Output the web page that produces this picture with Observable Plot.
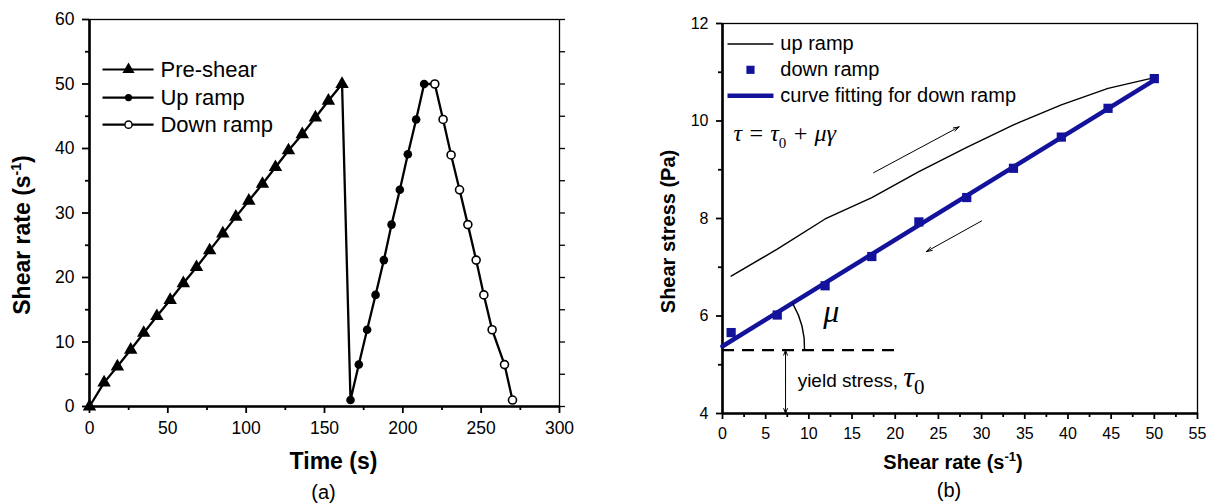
<!DOCTYPE html>
<html><head><meta charset="utf-8">
<script src="https://cdn.jsdelivr.net/npm/d3@7"></script>
<script src="https://cdn.jsdelivr.net/npm/@observablehq/plot@0.6"></script>
<style>
body{margin:0;background:#fff;}
#wrap{position:relative;width:1211px;height:504px;overflow:hidden;background:#fff;}
#a{position:absolute;left:0;top:0;}
#b{position:absolute;left:610px;top:0;}
</style></head><body>
<div id="wrap"><div id="a"></div><div id="b"></div></div>
<script>
// ---------- Panel (a): shear rate vs time ----------
const preTime  = [0, 9.3, 17.8, 26.3, 34.6, 43.0, 51.5, 59.9, 68.3, 76.7, 85.1, 93.4, 101.7, 110.4, 118.7, 127.0, 135.8, 144.2, 152.5, 161.2];
const preRate  = [0, 3.7, 6.2, 8.8, 11.4, 14.0, 16.5, 19.1, 21.6, 24.2, 26.8, 29.4, 31.9, 34.5, 37.1, 39.7, 42.2, 44.8, 47.4, 50.0];
const upTime   = [166.6, 171.9, 177.2, 182.6, 187.9, 192.8, 198.1, 203.2, 208.5, 213.6];
const upRate   = [1.0, 6.5, 11.9, 17.3, 22.7, 28.2, 33.6, 39.1, 44.5, 50.0];
const downTime = [220.4, 225.7, 230.8, 236.2, 241.5, 246.8, 251.7, 257.0, 264.9, 270.0];
const downRate = [50.0, 44.5, 39.0, 33.6, 28.2, 22.7, 17.3, 11.9, 6.5, 1.0];
const aXTicks = [0, 50, 100, 150, 200, 250, 300];
const aXMinor = [25, 75, 125, 175, 225, 275];
const aYTicks = [0, 10, 20, 30, 40, 50, 60];
const aYMinor = [5, 15, 25, 35, 45, 55];
const aRightTicks = [0, 5, 10, 15, 20, 25, 30, 35, 40, 45, 50, 55, 60];
const aLegendLabels = ["Pre-shear", "Up ramp", "Down ramp"];
const aLegendY = [52.25, 47.9, 43.7];

// ---------- Panel (b): shear stress vs shear rate ----------
const shearRate  = [1.0, 6.34, 11.88, 17.29, 22.74, 28.28, 33.69, 39.23, 44.64, 50.0];
const upStress   = [6.82, 7.37, 7.99, 8.43, 8.96, 9.46, 9.92, 10.33, 10.67, 10.89];
const downStress = [5.66, 6.02, 6.62, 7.22, 7.93, 8.43, 9.03, 9.67, 10.26, 10.87];
const fitRate    = [0, 50];
const fitStress  = [5.38, 10.84];
const yieldStress = 5.3;
const bXTicks = [0, 5, 10, 15, 20, 25, 30, 35, 40, 45, 50, 55];
const bXMinor = [2.5, 7.5, 12.5, 17.5, 22.5, 27.5, 32.5, 37.5, 42.5, 47.5, 52.5];
const bYTicks = [4, 6, 8, 10, 12];
const bYMinor = [5, 7, 9, 11];
const bLegendLabels = ["up ramp", "down ramp", "curve fitting for down ramp"];
const bLegendY = [11.58, 11.05, 10.52];

const sans = "'Liberation Sans', Arial, Helvetica, sans-serif";
const serif = "'Liberation Serif', 'Times New Roman', serif";
const navy = "#12129a";

function rich(svg, key, html) {
  svg.querySelectorAll("text").forEach(t => { if (t.textContent === key) t.innerHTML = html; });
}

// ----- build panel a -----
const pre  = preTime.map((t, i) => ({t, r: preRate[i]}));
const up   = upTime.map((t, i) => ({t, r: upRate[i]}));
const down = downTime.map((t, i) => ({t, r: downRate[i]}));
const path = [...pre, ...up, ...down];
const legA = aLegendLabels.map((label, i) => ({label, y: aLegendY[i], x1: 8.3, x2: 40.9, xm: 24.9, xt: 45.3}));

const plotA = Plot.plot({
  width: 610, height: 504,
  marginLeft: 89, marginRight: 51, marginTop: 19, marginBottom: 98,
  style: {fontFamily: sans, fontSize: "17px", background: "white", color: "black", overflow: "visible"},
  x: {domain: [0, 300]},
  y: {domain: [0, 60]},
  marks: [
    Plot.frame({stroke: "black", strokeWidth: 1.3}),
    Plot.axisX({ticks: aXTicks, tickSize: 7, tickPadding: 8, fontSize: 17.5, label: null, strokeWidth: 1.8}),
    Plot.axisX({ticks: aXMinor, tickSize: 4, text: null, label: null, strokeWidth: 1.8}),
    Plot.axisY({ticks: aYTicks, tickSize: 7, tickPadding: 8, fontSize: 17.5, label: null, strokeWidth: 1.8}),
    Plot.axisY({ticks: aYMinor, tickSize: 4, text: null, label: null, strokeWidth: 1.8}),
    Plot.axisY({anchor: "right", ticks: aRightTicks, tickSize: 5, text: null, label: null, strokeWidth: 1.3}),
    Plot.ruleX([0], {stroke: "black", strokeWidth: 2.6}),
    Plot.ruleY([0], {stroke: "black", strokeWidth: 2.6}),
    Plot.line(path, {x: "t", y: "r", stroke: "black", strokeWidth: 2.3}),
    Plot.dot(pre, {x: "t", y: "r", symbol: "triangle", r: 5, fill: "black"}),
    Plot.dot(up, {x: "t", y: "r", r: 4.3, fill: "black"}),
    Plot.dot(down, {x: "t", y: "r", r: 4, fill: "white", stroke: "black", strokeWidth: 1.6}),
    // legend
    Plot.link(legA, {x1: "x1", x2: "x2", y1: "y", y2: "y", stroke: "black", strokeWidth: 2.2}),
    Plot.dot(legA.slice(0, 1), {x: "xm", y: "y", symbol: "triangle", r: 4.5, fill: "black"}),
    Plot.dot(legA.slice(1, 2), {x: "xm", y: "y", r: 3.6, fill: "black"}),
    Plot.dot(legA.slice(2, 3), {x: "xm", y: "y", r: 3.6, fill: "white", stroke: "black", strokeWidth: 1.4}),
    Plot.text(legA, {x: "xt", y: "y", text: "label", textAnchor: "start", fontSize: 22}),
    // axis titles & caption
    Plot.text(["Time (s)"], {frameAnchor: "bottom", dx: 9, dy: 55, lineAnchor: "middle", fontSize: 23, fontWeight: "bold"}),
    Plot.text(["SRLABEL_A"], {frameAnchor: "left", textAnchor: "middle", lineAnchor: "middle", rotate: -90, dx: -67, dy: 22, fontSize: 23, fontWeight: "bold"}),
    Plot.text(["(a)"], {frameAnchor: "bottom", dx: -1, dy: 86, lineAnchor: "middle", fontSize: 20})
  ]
});
rich(plotA, "SRLABEL_A", 'Shear rate (s<tspan dy="-9" font-size="14">-1</tspan><tspan dy="9">)</tspan>');
document.getElementById("a").appendChild(plotA);

// ----- build panel b -----
const bUp   = shearRate.map((x, i) => ({x, y: upStress[i]}));
const bDown = shearRate.map((x, i) => ({x, y: downStress[i]}));
const bFit  = fitRate.map((x, i) => ({x, y: fitStress[i]}));
const arrowsB = [
  {x1: 17.5, y1: 8.94, x2: 27.4, y2: 9.88},
  {x1: 30.0, y1: 7.95, x2: 23.6, y2: 7.32}
];
const yieldArrows = [
  {x1: 7.3, y1: 4.65, x2: 7.3, y2: yieldStress},
  {x1: 7.3, y1: 4.65, x2: 7.3, y2: 4.0}
];
const arcB = [{x1: 9.5, y1: yieldStress, x2: 8.15, y2: 6.25}];

const plotB = Plot.plot({
  width: 601, height: 504,
  marginLeft: 112, marginRight: 14, marginTop: 23, marginBottom: 91,
  style: {fontFamily: sans, fontSize: "16px", background: "white", color: "black", overflow: "visible"},
  x: {domain: [0, 55]},
  y: {domain: [4, 12]},
  marks: [
    Plot.frame({stroke: "black", strokeWidth: 1.3}),
    Plot.axisX({ticks: bXTicks, tickSize: 6, tickPadding: 8, fontSize: 16, label: null, strokeWidth: 1.8}),
    Plot.axisX({ticks: bXMinor, tickSize: 4, text: null, label: null, strokeWidth: 1.8}),
    Plot.axisY({ticks: bYTicks, tickSize: 6, tickPadding: 8, fontSize: 16, label: null, strokeWidth: 1.8}),
    Plot.axisY({ticks: bYMinor, tickSize: 4, text: null, label: null, strokeWidth: 1.8}),
    Plot.ruleX([0], {stroke: "black", strokeWidth: 2.6}),
    Plot.ruleY([4], {stroke: "black", strokeWidth: 2.6}),
    // yield stress dashed line & arrow
    Plot.ruleY([yieldStress], {x1: 0, x2: 20.2, stroke: "black", strokeWidth: 2.4, strokeDasharray: "12,8"}),
    Plot.arrow(yieldArrows, {x1: "x1", y1: "y1", x2: "x2", y2: "y2", stroke: "black", strokeWidth: 1, headLength: 8, headAngle: 40}),
    // data
    Plot.line(bUp, {x: "x", y: "y", stroke: "black", strokeWidth: 1.4}),
    Plot.line(bFit, {x: "x", y: "y", stroke: navy, strokeWidth: 4.5}),
    Plot.dot(bDown, {x: "x", y: "y", symbol: "square", r: 5.2, fill: navy}),
    // annotations
    Plot.arrow(arrowsB, {x1: "x1", y1: "y1", x2: "x2", y2: "y2", stroke: "black", strokeWidth: 1, headLength: 9, headAngle: 35}),
    Plot.arrow(arcB, {x1: "x1", y1: "y1", x2: "x2", y2: "y2", bend: -16, headLength: 0, stroke: "black", strokeWidth: 1.4}),
    Plot.text([{x: 12.6, y: 6.08}], {x: "x", y: "y", text: () => "μ", fontFamily: serif, fontStyle: "italic", fontSize: 32}),
    Plot.text([{x: 1.27, y: 9.74}], {x: "x", y: "y", text: () => "FORMULA_B", textAnchor: "start", fontFamily: serif, fontStyle: "italic", fontSize: 24}),
    Plot.text([{x: 8.7, y: 4.67}], {x: "x", y: "y", text: () => "YIELD_B", textAnchor: "start", fontSize: 19}),
    // legend
    Plot.link([{y: bLegendY[0]}], {x1: 0.58, x2: 5.9, y1: "y", y2: "y", stroke: "black", strokeWidth: 1.4}),
    Plot.dot([{y: bLegendY[1]}], {x: 3.24, y: "y", symbol: "square", r: 4.6, fill: navy}),
    Plot.link([{y: bLegendY[2]}], {x1: 0.58, x2: 5.9, y1: "y", y2: "y", stroke: navy, strokeWidth: 4.5}),
    Plot.text(bLegendLabels.map((label, i) => ({label, y: bLegendY[i]})), {x: 6.7, y: "y", text: "label", textAnchor: "start", fontSize: 20}),
    // axis titles & caption
    Plot.text(["SRLABEL_B"], {frameAnchor: "bottom", dx: -7, dy: 49, lineAnchor: "middle", fontSize: 20, fontWeight: "bold"}),
    Plot.text(["Shear stress (Pa)"], {frameAnchor: "left", textAnchor: "middle", lineAnchor: "middle", rotate: -90, dx: -54, dy: 13, fontSize: 20, fontWeight: "bold"}),
    Plot.text(["(b)"], {frameAnchor: "bottom", dx: -11, dy: 77, lineAnchor: "middle", fontSize: 20})
  ]
});
rich(plotB, "SRLABEL_B", 'Shear rate (s<tspan dy="-8" font-size="13">-1</tspan><tspan dy="8">)</tspan>');
rich(plotB, "FORMULA_B", 'τ = τ<tspan dy="7" font-size="15" font-style="normal">0</tspan><tspan dy="-7"> + μγ</tspan>');
rich(plotB, "YIELD_B", 'yield stress, <tspan font-family="' + serif.replace(/'/g, "") + '" font-style="italic" font-size="30">τ</tspan><tspan dy="7" font-family="' + serif.replace(/'/g, "") + '" font-size="21">0</tspan>');
document.getElementById("b").appendChild(plotB);
</script>
</body></html>
